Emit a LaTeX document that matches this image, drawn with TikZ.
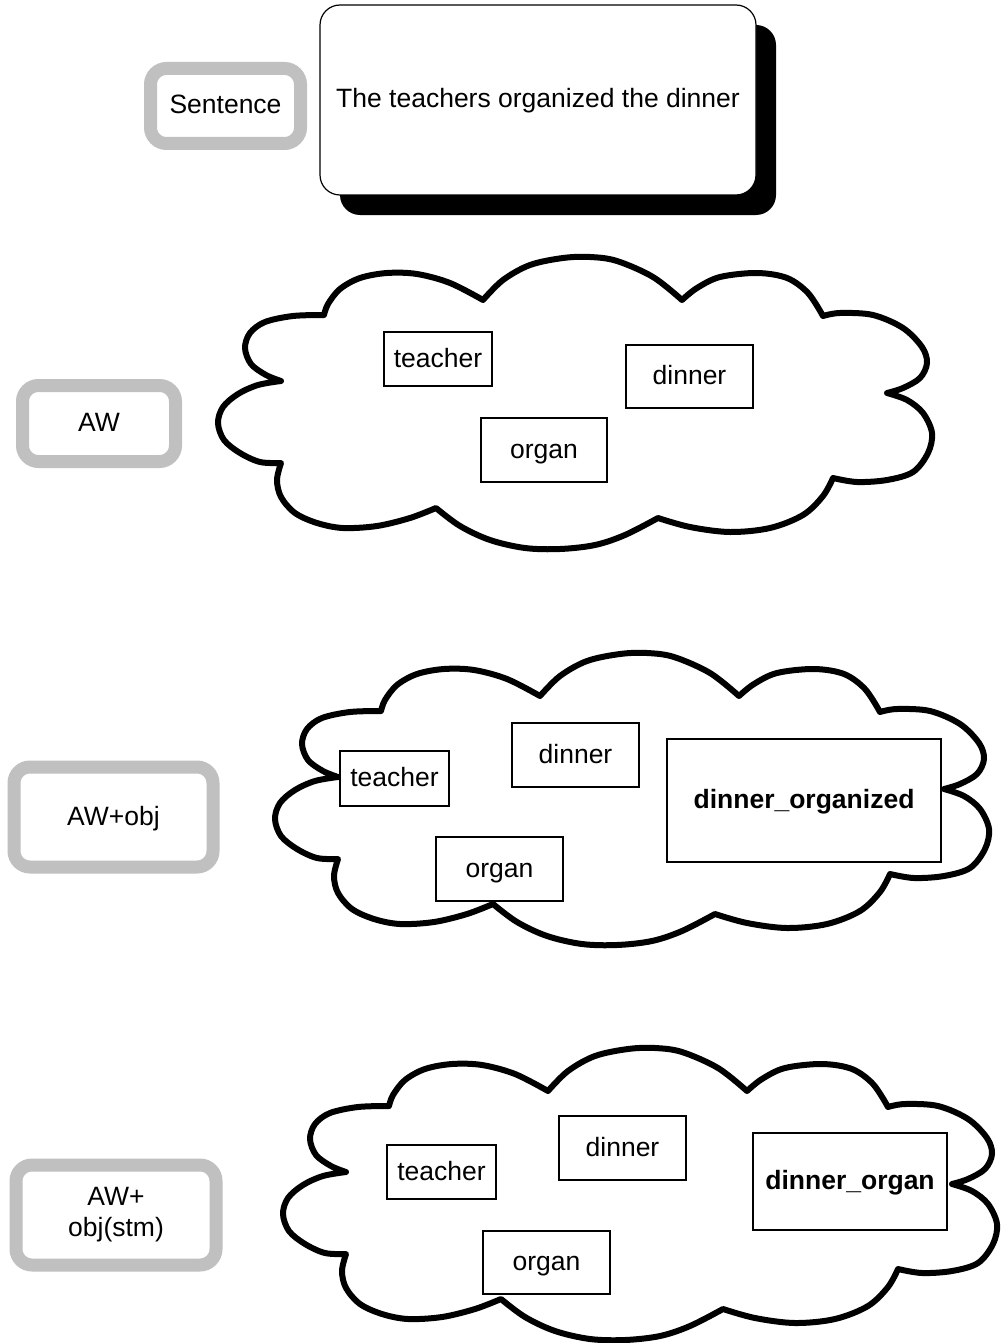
\documentclass[tikz,border=0pt]{standalone}
\usepackage{fontspec}
\setmainfont{Liberation Sans}
\usetikzlibrary{shadows}
\definecolor{lblgray}{RGB}{192,192,192}
\newcommand\mycloud[1]{%
\draw[cloudline,shift={#1}]
 plot[smooth,tension=0.55] coordinates {(281,381) (266,375) (251,364) (245,348) (250,333) (265,322) (293,316) (324,315)}
 -- plot[smooth,tension=0.55] coordinates {(324,315) (328,304) (340,289) (360,278) (387,273) (417,274) (450,283) (483,300)}
 -- plot[smooth,tension=0.55] coordinates {(483,300) (503,280) (530,265) (563,258) (590,257) (617,261) (653,277) (682,300)}
 -- plot[smooth,tension=0.55] coordinates {(682,300) (697,288) (720,277) (757,273) (787,278) (808,293) (823,316)}
 -- plot[smooth,tension=0.55] coordinates {(823,316) (840,313) (873,315) (903,328) (922,347) (927,363) (920,378) (903,388) (887,393)}
 -- plot[smooth,tension=0.55] coordinates {(887,393) (907,400) (923,413) (932,433) (928,453) (913,472) (887,480) (857,482) (833,478)}
 -- plot[smooth,tension=0.55] coordinates {(833,478) (823,496) (803,515) (770,528) (730,532) (690,527) (658,518)}
 -- plot[smooth,tension=0.55] coordinates {(658,518) (625,535) (595,545) (560,549) (525,548) (490,540) (460,526) (436,508)}
 -- plot[smooth,tension=0.55] coordinates {(436,508) (410,518) (377,526) (343,528) (317,523) (295,513) (281,497) (277,480) (281,463)}
 -- plot[smooth,tension=0.55] coordinates {(281,463) (260,462) (240,453) (224,440) (218,423) (223,407) (238,394) (258,385) (281,381)}
 -- cycle;}
\begin{document}
\begin{tikzpicture}[x=1pt,y=-1pt,
  every node/.style={font=\fontsize{26.5}{29}\selectfont, text height=20, text depth=4},
  cloudline/.style={line width=6, line join=round, black},
  wbox/.style={draw=black, line width=1.3, fill=white, inner sep=0},
  lbl/.style={draw=lblgray, line width=13, rounded corners=16, align=center, inner sep=0, fill=white},
  bigbox/.style={draw=black, line width=1.2, fill=white, rounded corners=20, inner sep=0,
     drop shadow={shadow xshift=20pt, shadow yshift=-20pt, fill=black, opacity=1}},
]
\useasboundingbox[fill=white] (0,0) rectangle (1002,1343);

% top row
\node[lbl, minimum width=150, minimum height=75] (lsent) at (225.5,106) {Sentence};
\node[bigbox, minimum width=436, minimum height=190] (sent) at (538,100) {The teachers organized the dinner};

% clouds
\mycloud{(0,0)}
\mycloud{(57,396)}
\mycloud{(65,791)}

% cloud 1
\node[lbl, minimum width=153, minimum height=76] (law) at (99,423.5) {AW};
\node[wbox, minimum width=108, minimum height=54] (t1) at (438,359) {teacher};
\node[wbox, minimum width=127, minimum height=63] (d1) at (689.5,376.5) {dinner};
\node[wbox, minimum width=126, minimum height=64] (o1) at (544,450) {organ};

% cloud 2
\node[lbl, minimum width=199, minimum height=100] (lobj) at (113.5,817) {AW+obj};
\node[wbox, minimum width=109, minimum height=55] (t2) at (394.5,778.5) {teacher};
\node[wbox, minimum width=127, minimum height=64] (d2) at (575.5,755) {dinner};
\node[wbox, minimum width=127, minimum height=64] (o2) at (499.5,869) {organ};
\node[wbox, minimum width=274, minimum height=123] (do2) at (804,800.5) {\bfseries dinner\_organized};

% cloud 3
\node[lbl, minimum width=200, minimum height=100, text height=, text depth=,
      font=\fontsize{26.5}{31}\selectfont] (lstm) at (116,1215) {AW+\\obj(stm)};
\node[wbox, minimum width=109, minimum height=54] (t3) at (441.5,1172) {teacher};
\node[wbox, minimum width=127, minimum height=64] (d3) at (622.5,1148) {dinner};
\node[wbox, minimum width=127, minimum height=63] (o3) at (546.5,1262.5) {organ};
\node[wbox, minimum width=194, minimum height=97] (do3) at (850,1181.5) {\bfseries dinner\_organ};
\end{tikzpicture}
\end{document}
